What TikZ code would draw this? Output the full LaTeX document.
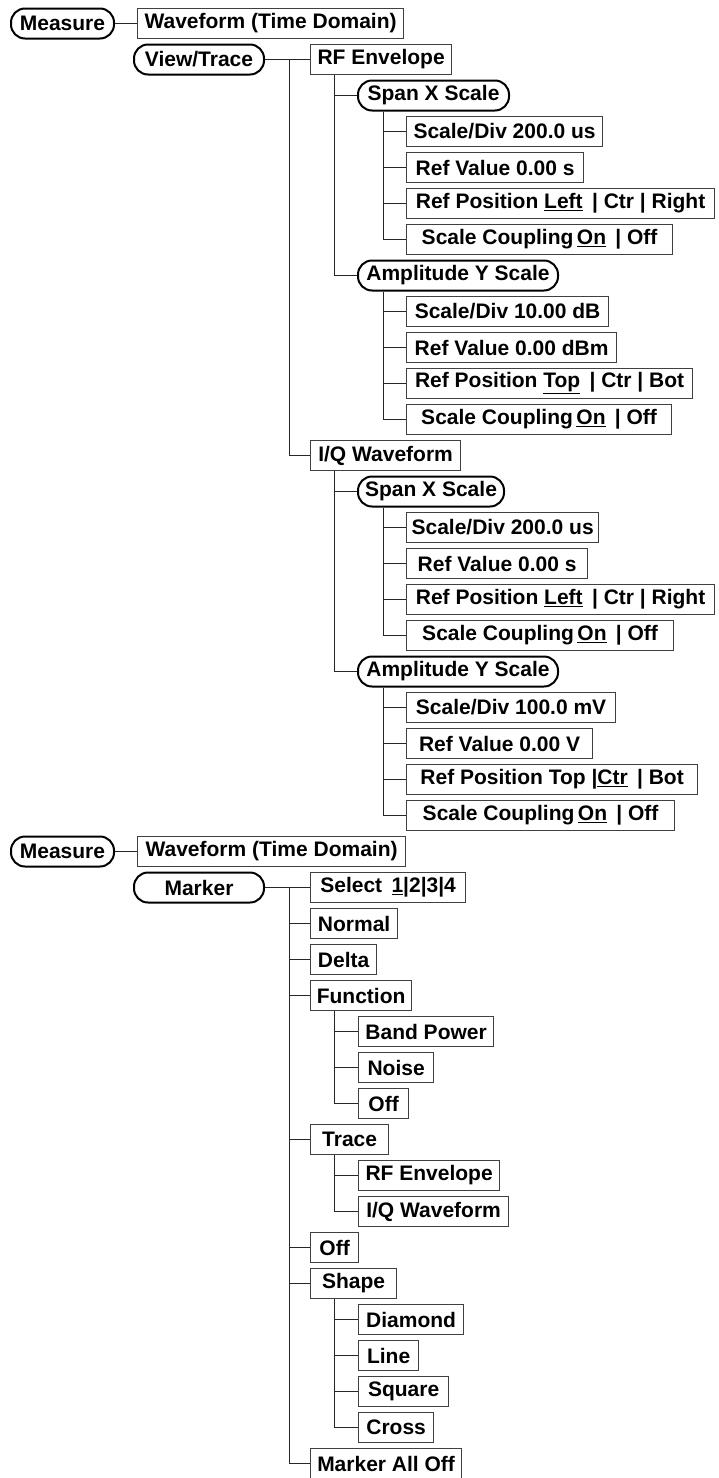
\documentclass[tikz,border=0pt]{standalone}
\usepackage{fontspec}
\setmainfont{Liberation Sans}
\begin{document}
\begin{tikzpicture}[x=1pt,y=-1pt,
  lbl/.style={font=\fontsize{21}{24}\selectfont\bfseries, inner xsep=5pt, inner ysep=0pt, minimum height=30pt, anchor=west},
  boxn/.style={lbl, draw=black!75, line width=1.2pt},
  rnd/.style={lbl, draw=black, line width=2pt, rounded corners=14pt},
  conn/.style={draw=black!85, line width=1pt}]
\useasboundingbox (0,0) rectangle (718,1478);
\newcommand\bx[5]{\node[boxn, minimum width=#4pt] (#1) at ({#2},{23.5+36*#3}) {#5};}
\newcommand\rn[5]{\node[rnd, minimum width=#4pt] (#1) at ({#2},{23.5+36*#3}) {#5};}
% top section
\rn{ma}{10}{0}{103}{Measure}
\bx{wa}{137}{0}{266}{Waveform (Time Domain)}
\rn{vt}{133}{1}{130}{View/Trace}
\bx{rf}{310}{1}{141}{RF Envelope}
\rn{sa}{357}{2}{151}{Span X Scale}
\bx{sa1}{406}{3}{196}{Scale/Div 200.0 us}
\bx{sa2}{406}{4}{177}{Ref Value 0.00 s}
\bx{sa3}{406}{5}{308}{Ref Position \underline{Left}\, | Ctr | Right}
\bx{sa4}{406}{6}{266}{Scale Coupling\,\underline{On}\, | Off}
\rn{aa}{357}{7}{200}{Amplitude Y Scale}
\bx{aa1}{406}{8}{202}{Scale/Div 10.00 dB}
\bx{aa2}{406}{9}{210}{Ref Value 0.00 dBm}
\bx{aa3}{406}{10}{286}{Ref Position \underline{Top}\, | Ctr | Bot}
\bx{aa4}{406}{11}{265}{Scale Coupling\,\underline{On}\, | Off}
\bx{iq}{310}{12}{150}{I/Q Waveform}
\rn{sb}{357}{13}{146}{Span X Scale}
\bx{sb1}{406}{14}{192}{Scale/Div 200.0 us}
\bx{sb2}{406}{15}{181}{Ref Value 0.00 s}
\bx{sb3}{406}{16}{308}{Ref Position \underline{Left}\, | Ctr | Right}
\bx{sb4}{406}{17}{267}{Scale Coupling\,\underline{On}\, | Off}
\rn{ab}{357}{18}{200}{Amplitude Y Scale}
\bx{ab1}{406}{19}{209}{Scale/Div 100.0 mV}
\bx{ab2}{406}{20}{186}{Ref Value 0.00 V}
\bx{ab3}{406}{21}{291}{Ref Position Top |\underline{Ctr}\, | Bot}
\bx{ab4}{406}{22}{268}{Scale Coupling\,\underline{On}\, | Off}
% bottom section
\rn{mb}{10}{23}{103}{Measure}
\bx{wb}{137}{23}{268}{Waveform (Time Domain)}
\rn{mk}{133}{24}{130}{Marker}
\bx{sel}{310}{24}{155}{Select\, \underline{1}|2|3|4}
\bx{nor}{310}{25}{87}{Normal}
\bx{del}{310}{26}{66}{Delta}
\bx{fun}{310}{27}{101}{Function}
\bx{bp}{358}{28}{135}{Band Power}
\bx{noi}{358}{29}{75}{Noise}
\bx{foff}{358}{30}{50}{Off}
\bx{tr}{310}{31}{78}{Trace}
\bx{trf}{358}{32}{141}{RF Envelope}
\bx{tiq}{358}{33}{150}{I/Q Waveform}
\bx{off}{310}{34}{48}{Off}
\bx{sh}{310}{35}{86}{Shape}
\bx{dia}{358}{36}{105}{Diamond}
\bx{lin}{358}{37}{60}{Line}
\bx{squ}{358}{38}{90}{Square}
\bx{cro}{358}{39}{75}{Cross}
\bx{mao}{310}{40}{151}{Marker All Off}
% connectors top
\draw[conn] (ma.east) -- (wa.west);
\draw[conn] (vt.east) -- (rf.west);
\foreach \c in {iq} \draw[conn] ([xshift=24pt]vt.east) |- (\c.west);
\foreach \c in {sa,aa} \draw[conn] ([xshift=24pt]rf.south west) |- (\c.west);
\foreach \c in {sa1,sa2,sa3,sa4} \draw[conn] ([xshift=26pt]sa.south west) |- (\c.west);
\foreach \c in {aa1,aa2,aa3,aa4} \draw[conn] ([xshift=26pt]aa.south west) |- (\c.west);
\foreach \c in {sb,ab} \draw[conn] ([xshift=24pt]iq.south west) |- (\c.west);
\foreach \c in {sb1,sb2,sb3,sb4} \draw[conn] ([xshift=26pt]sb.south west) |- (\c.west);
\foreach \c in {ab1,ab2,ab3,ab4} \draw[conn] ([xshift=26pt]ab.south west) |- (\c.west);
% connectors bottom
\draw[conn] (mb.east) -- (wb.west);
\draw[conn] (mk.east) -- (sel.west);
\foreach \c in {nor,del,fun,tr,off,sh,mao} \draw[conn] ([xshift=24pt]mk.east) |- (\c.west);
\foreach \c in {bp,noi,foff} \draw[conn] ([xshift=24pt]fun.south west) |- (\c.west);
\foreach \c in {trf,tiq} \draw[conn] ([xshift=24pt]tr.south west) |- (\c.west);
\foreach \c in {dia,lin,squ,cro} \draw[conn] ([xshift=24pt]sh.south west) |- (\c.west);
\end{tikzpicture}
\end{document}
